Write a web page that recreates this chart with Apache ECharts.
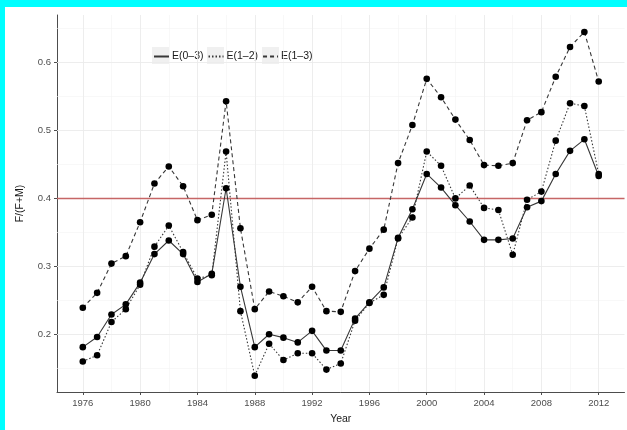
<!DOCTYPE html>
<html>
<head>
<meta charset="utf-8">
<script src="https://cdn.jsdelivr.net/npm/echarts@6/dist/echarts.min.js"></script>
<style>
html,body{margin:0;padding:0;background:#fff;}
#c{width:627px;height:430px;}
</style>
</head>
<body>
<div id="c"></div>
<script>
const years = [1976,1977,1978,1979,1980,1981,1982,1983,1984,1985,1986,1987,1988,1989,1990,1991,1992,1993,1994,1995,1996,1997,1998,1999,2000,2001,2002,2003,2004,2005,2006,2007,2008,2009,2010,2011,2012];
const e03 = [0.181,0.196,0.229,0.244,0.276,0.318,0.338,0.318,0.277,0.289,0.415,0.270,0.181,0.200,0.195,0.188,0.205,0.176,0.176,0.223,0.247,0.269,0.342,0.384,0.436,0.416,0.390,0.366,0.339,0.339,0.341,0.387,0.396,0.436,0.470,0.487,0.433];
const e12 = [0.160,0.169,0.218,0.237,0.273,0.329,0.360,0.321,0.282,0.287,0.469,0.234,0.139,0.186,0.162,0.172,0.172,0.148,0.157,0.220,0.246,0.258,0.341,0.372,0.469,0.448,0.400,0.419,0.386,0.383,0.317,0.398,0.410,0.485,0.540,0.536,0.436];
const e13 = [0.239,0.261,0.304,0.315,0.365,0.422,0.447,0.418,0.368,0.376,0.543,0.356,0.237,0.263,0.256,0.247,0.270,0.234,0.233,0.293,0.326,0.354,0.452,0.508,0.576,0.549,0.516,0.486,0.449,0.448,0.452,0.515,0.527,0.579,0.623,0.645,0.572];
const seriesNames = ['E(0–3)','E(1–2)','E(1–3)'];
const xTicks = [1976,1980,1984,1988,1992,1996,2000,2004,2008,2012];
const xMinor = [1978,1982,1986,1990,1994,1998,2002,2006,2010];
const yTicks = [0.2,0.3,0.4,0.5,0.6];
const yMinor = [0.15,0.25,0.35,0.45,0.55,0.65];
const refLine = 0.4;

const FONT = 'Liberation Sans';
const chart = echarts.init(document.getElementById('c'), null, {renderer:'canvas'});

function pairs(vals){ return years.map((y,i)=>[y, vals[i]]); }

const gridMarks = []
  .concat(xMinor.map(v=>({xAxis:v, lineStyle:{color:'#f4f4f4',width:0.6,type:'solid'}})))
  .concat(yMinor.map(v=>({yAxis:v, lineStyle:{color:'#f4f4f4',width:0.6,type:'solid'}})))
  .concat(xTicks.map(v=>({xAxis:v, lineStyle:{color:'#ebebeb',width:0.9,type:'solid'}})))
  .concat(yTicks.map(v=>({yAxis:v, lineStyle:{color:'#ebebeb',width:0.9,type:'solid'}})));

const lineColor = '#383838';
function mk(name, vals, dash){
  return {
    name: name, type:'line', data: pairs(vals), z: 5,
    symbol:'circle', symbolSize:6.6,
    itemStyle:{color:'#000'},
    lineStyle:{color:lineColor, width:1.1, type:dash},
    emphasis:{disabled:true}, animation:false
  };
}

const keyBg = {fill:'#f0f0f0'};
chart.setOption({
  animation:false,
  backgroundColor:'#ffffff',
  textStyle:{fontFamily:FONT},
  graphic:[
    {type:'rect', left:0, top:0, shape:{width:627,height:7}, style:{fill:'#00ffff'}, z:100},
    {type:'rect', left:0, top:0, shape:{width:5,height:430}, style:{fill:'#00ffff'}, z:100},
    {type:'rect', left:152, top:47, shape:{width:17,height:17}, style:keyBg, z:0},
    {type:'rect', left:207, top:47, shape:{width:17,height:17}, style:keyBg, z:0},
    {type:'rect', left:262, top:47, shape:{width:17,height:17}, style:keyBg, z:0}
  ],
  grid:{left:57, top:15, right:2.5, bottom:34, containLabel:false},
  legend:{
    left:148, top:46, itemWidth:15, itemHeight:12, itemGap:4, z:5,
    textStyle:{fontFamily:FONT, fontSize:10.5, color:'#1a1a1a', padding:[0,0,0,-2]},
    itemStyle:{opacity:0},
    data: seriesNames
  },
  xAxis:{
    type:'value', min:1974.2, max:2013.8,
    name:'Year', nameLocation:'middle', nameGap:22,
    nameTextStyle:{fontFamily:FONT, fontSize:10.5, color:'#1a1a1a'},
    axisLine:{show:true, onZero:false, lineStyle:{color:'#4d4d4d', width:1}},
    axisTick:{show:true, length:3, customValues:xTicks, lineStyle:{color:'#4d4d4d'}},
    axisLabel:{customValues:xTicks, fontFamily:FONT, fontSize:9.5, color:'#4d4d4d', margin:6,
      formatter:v=>String(v)},
    splitLine:{show:false}
  },
  yAxis:{
    type:'value', min:0.115, max:0.67,
    name:'F/(F+M)', nameLocation:'middle', nameGap:31,
    nameTextStyle:{fontFamily:FONT, fontSize:10.5, color:'#1a1a1a'},
    axisLine:{show:true, onZero:false, lineStyle:{color:'#4d4d4d', width:1}},
    axisTick:{show:true, length:3, customValues:yTicks, lineStyle:{color:'#4d4d4d'}},
    axisLabel:{customValues:yTicks, fontFamily:FONT, fontSize:9.5, color:'#4d4d4d', margin:6,
      formatter:v=>v.toFixed(1)},
    splitLine:{show:false}
  },
  series:[
    {type:'line', data:[], z:1, silent:true,
      markLine:{silent:true, symbol:'none', label:{show:false}, animation:false, data:gridMarks}},
    {type:'line', data:[], z:2, silent:true,
      markLine:{silent:true, symbol:'none', label:{show:false}, animation:false,
        data:[{yAxis:refLine, lineStyle:{color:'#c66666', width:1.4, type:'solid'}}]}},
    mk(seriesNames[0], e03, 'solid'),
    mk(seriesNames[1], e12, [1.5,2]),
    mk(seriesNames[2], e13, [4,3])
  ]
});
</script>
</body>
</html>
